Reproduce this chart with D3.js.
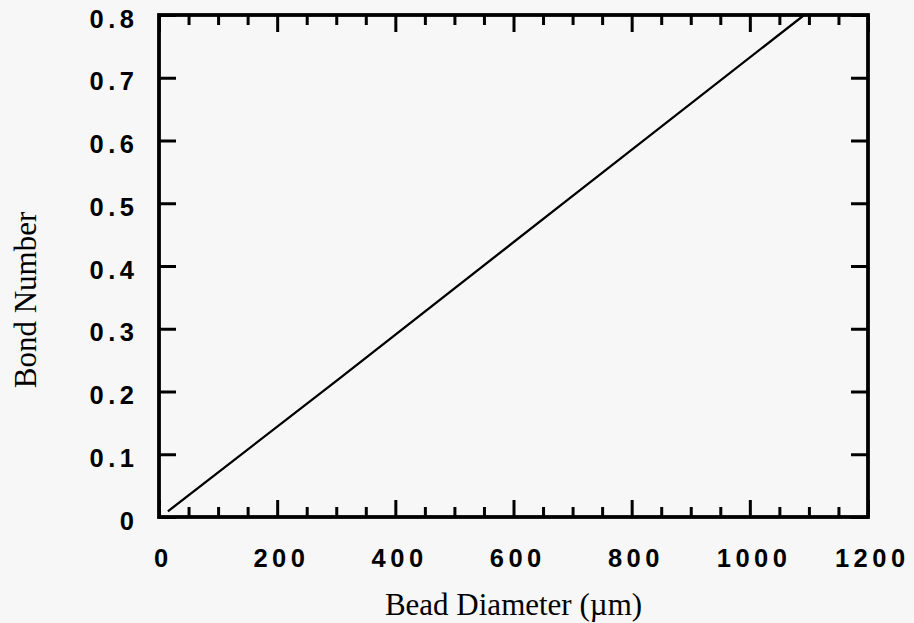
<!DOCTYPE html>
<html lang="en">
<head>
    <meta charset="UTF-8">
    <title>Bond Number vs Bead Diameter</title>
    <script src="https://d3js.org/d3.v7.min.js"></script>
    <style>
        html, body { margin: 0; padding: 0; background: #f7f7f7; }
        svg { display: block; }
        .tick text { font-family: "Liberation Sans", Arial, sans-serif; font-weight: bold; font-size: 25.5px; letter-spacing: 4.5px; fill: #000; }
        .axis path, .axis line { stroke: #000; }
        .title { font-family: "Liberation Serif", "Times New Roman", serif; font-size: 31px; fill: #000; }
    </style>
</head>
<body>
<div id="chart"></div>
<script>
    // values
    let diameters = [15, 303, 691, 1092];          // bead diameter, um
    let bondNumbers = [0.009, 0.219, 0.505, 0.800];
    let xMajorTicks = [0, 200, 400, 600, 800, 1000, 1200];
    let xMinorTicks = d3.range(50, 1200, 50).filter(d => d % 200 !== 0);
    let yTicks = [0, 0.1, 0.2, 0.3, 0.4, 0.5, 0.6, 0.7, 0.8];
    let yTickLabels = ["0", "0.1", "0.2", "0.3", "0.4", "0.5", "0.6", "0.7", "0.8"];

    let width = 914, height = 623;
    let plotLeft = 159, plotRight = 868, plotTop = 15, plotBottom = 517;

    let svg = d3.select("#chart").append("svg")
        .attr("width", width)
        .attr("height", height);

    let x = d3.scaleLinear().domain([0, 1200]).range([plotLeft, plotRight]);
    let y = d3.scaleLinear().domain([0, 0.8]).range([plotBottom, plotTop]);

    // bottom axis: major ticks with labels
    let gx = svg.append("g").attr("class", "axis")
        .attr("transform", `translate(0,${plotBottom})`)
        .call(d3.axisBottom(x).tickValues(xMajorTicks).tickFormat(d3.format("d"))
            .tickSizeInner(-17).tickSizeOuter(0).tickPadding(32));
    gx.selectAll(".tick text").attr("dx", 3.75);
    // bottom minor ticks
    svg.append("g").attr("class", "axis")
        .attr("transform", `translate(0,${plotBottom})`)
        .call(d3.axisBottom(x).tickValues(xMinorTicks).tickSizeInner(-10).tickSizeOuter(0).tickFormat(""));

    // top axis, ticks only
    svg.append("g").attr("class", "axis")
        .attr("transform", `translate(0,${plotTop})`)
        .call(d3.axisTop(x).tickValues(xMajorTicks).tickSizeInner(-17).tickSizeOuter(0).tickFormat(""));
    svg.append("g").attr("class", "axis")
        .attr("transform", `translate(0,${plotTop})`)
        .call(d3.axisTop(x).tickValues(xMinorTicks).tickSizeInner(-10).tickSizeOuter(0).tickFormat(""));

    // left axis with labels
    let gy = svg.append("g").attr("class", "axis")
        .attr("transform", `translate(${plotLeft},0)`)
        .call(d3.axisLeft(y).tickValues(yTicks).tickSizeInner(-17).tickSizeOuter(0).tickPadding(20.5)
            .tickFormat((d, i) => yTickLabels[i]));
    gy.selectAll(".tick text").attr("dy", "0.47em");

    // right axis, ticks only
    svg.append("g").attr("class", "axis")
        .attr("transform", `translate(${plotRight},0)`)
        .call(d3.axisRight(y).tickValues(yTicks).tickSizeInner(-17).tickSizeOuter(0).tickFormat(""));

    svg.selectAll(".axis path").attr("stroke", "none");
    svg.selectAll(".axis line").attr("stroke-width", 3);

    // frame
    svg.append("rect")
        .attr("x", plotLeft).attr("y", plotTop)
        .attr("width", plotRight - plotLeft).attr("height", plotBottom - plotTop)
        .attr("fill", "none")
        .attr("stroke", "#000")
        .attr("stroke-width", 3.8);

    // data line
    svg.append("clipPath").attr("id", "clip")
        .append("rect").attr("x", plotLeft).attr("y", plotTop)
        .attr("width", plotRight - plotLeft).attr("height", plotBottom - plotTop);

    let line = d3.line()
        .x((d, i) => x(diameters[i]))
        .y(d => y(d));

    svg.append("path")
        .datum(bondNumbers)
        .attr("clip-path", "url(#clip)")
        .attr("d", line)
        .attr("fill", "none")
        .attr("stroke", "#000")
        .attr("stroke-width", 2.3);

    // axis titles
    svg.append("text").attr("class", "title")
        .attr("x", (plotLeft + plotRight) / 2)
        .attr("y", 615)
        .attr("text-anchor", "middle")
        .text("Bead Diameter (\u00B5m)");

    svg.append("text").attr("class", "title")
        .attr("transform", "translate(36,300) rotate(-90)")
        .attr("text-anchor", "middle")
        .text("Bond Number");
</script>
</body>
</html>
